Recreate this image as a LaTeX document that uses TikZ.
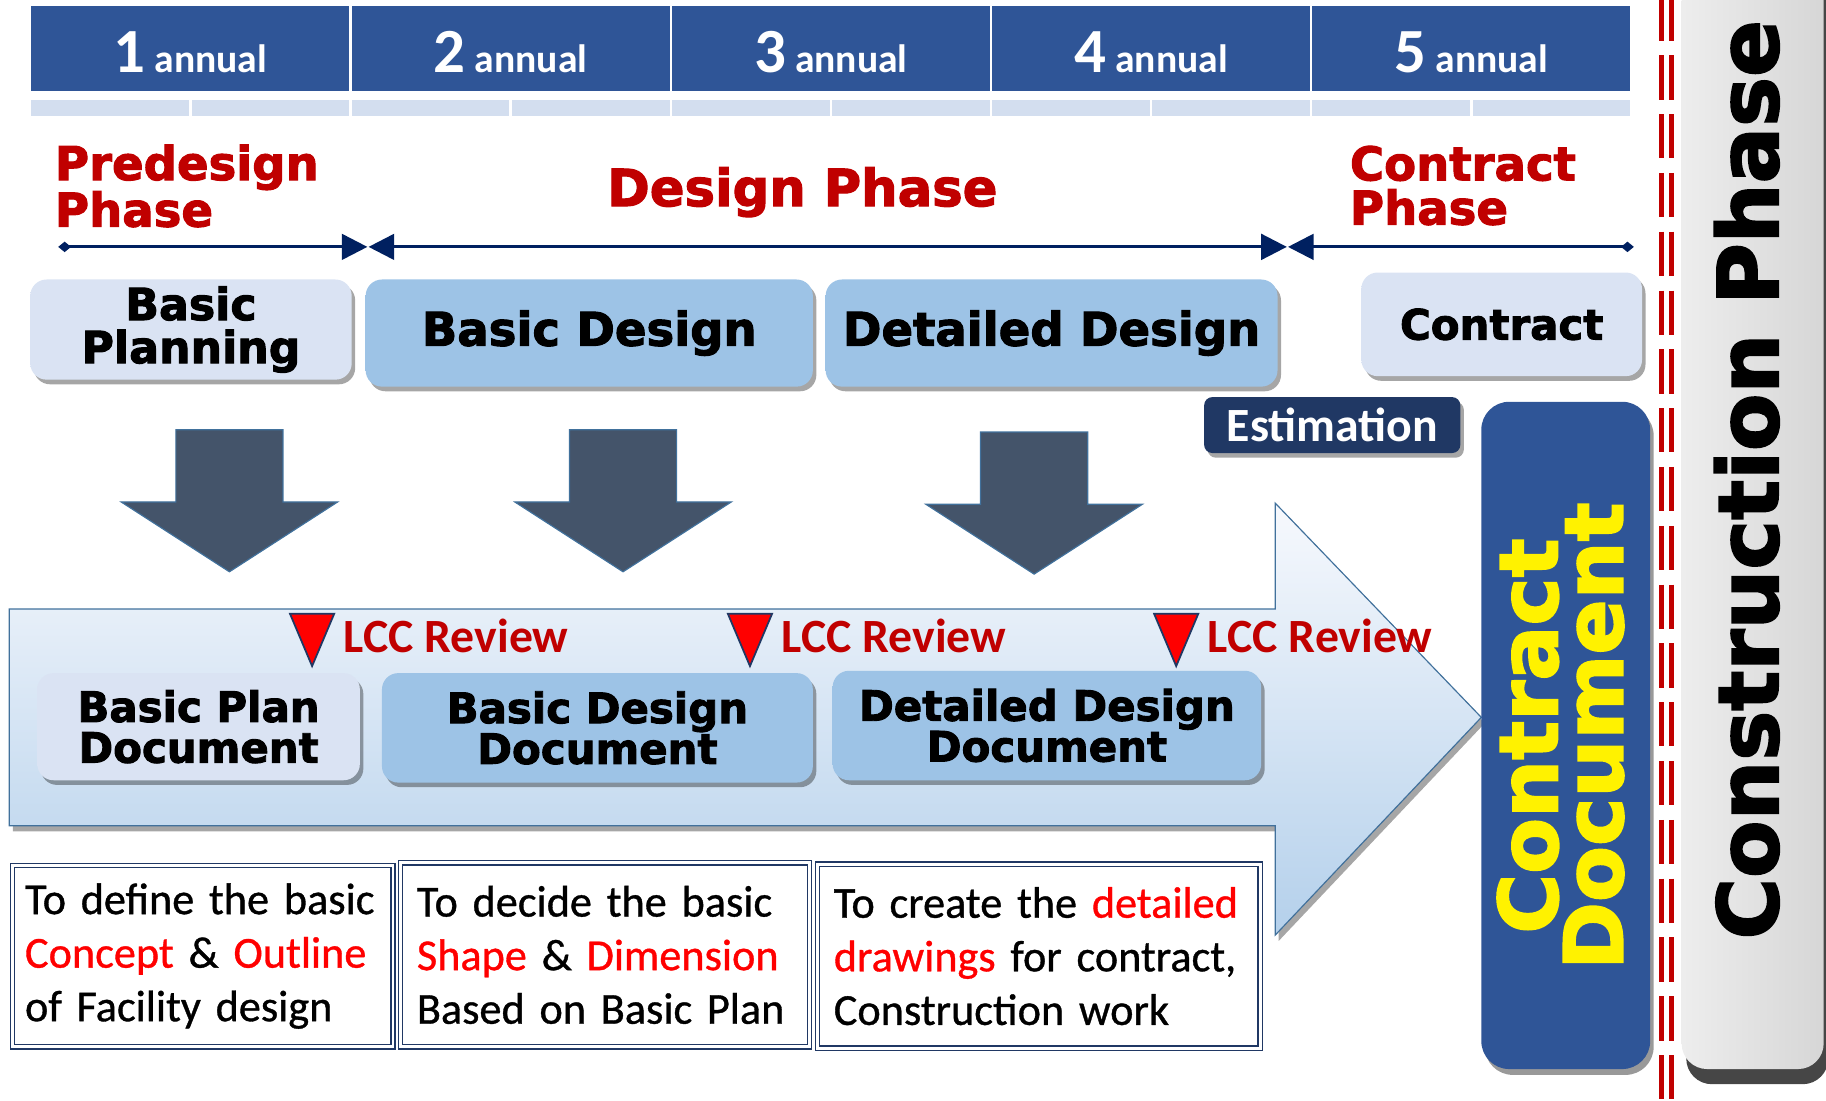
\documentclass[tikz,border=0pt]{standalone}
\usepackage{fontspec}
\setmainfont{Carlito}
\newfontfamily\heavyfont{DejaVu Sans}[FakeBold=2.2]
\newfontfamily\descfont{Carlito}[FakeBold=0.8]
\usetikzlibrary{arrows.meta,shadows}

\definecolor{yearblue}{HTML}{2F5597}
\definecolor{striplight}{HTML}{D3DEEF}
\definecolor{phasered}{HTML}{C00000}
\definecolor{phasenavy}{HTML}{002060}
\definecolor{boxlight}{HTML}{DAE3F3}
\definecolor{boxblue}{HTML}{9DC3E6}
\definecolor{estnavy}{HTML}{203864}
\definecolor{slate}{HTML}{44546A}
\definecolor{slateedge}{HTML}{41719C}
\definecolor{flowtop}{HTML}{F7F9FD}
\definecolor{flowbottom}{HTML}{B4D0EB}
\definecolor{hired}{HTML}{FF0000}

\pgfdeclareverticalshading{bluebevel}{100bp}{color(0bp)=(boxblue!60!black); color(14bp)=(boxblue); color(100bp)=(boxblue)}
\pgfdeclareverticalshading{lightbevel}{100bp}{color(0bp)=(boxlight!60!black); color(14bp)=(boxlight); color(100bp)=(boxlight)}

\tikzset{
  yearcell/.style={fill=yearblue, minimum width=273pt, minimum height=73pt, inner sep=0pt},
  yeartext/.style={text=white, font=\bfseries\fontsize{34}{34}\selectfont, inner sep=0pt},
  phasetitle/.style={text=phasered, font=\heavyfont\bfseries\fontsize{40}{36}\selectfont, align=left, inner sep=0pt},
  phaseline/.style={draw=phasenavy, line width=2.5pt},
  stagebox/.style={rounded corners=14pt, align=center, inner sep=0pt,
    font=\heavyfont\bfseries\fontsize{40}{37}\selectfont,
    drop shadow={shadow xshift=3pt, shadow yshift=-4pt, opacity=.35, fill=black}},
  lightstage/.style={stagebox, shading=lightbevel},
  bluestage/.style={stagebox, shading=bluebevel},
  docbox/.style={font=\heavyfont\bfseries\fontsize{36}{35}\selectfont},
  estbox/.style={fill=estnavy, rounded corners=7pt, text=white, inner sep=0pt,
    font=\bfseries\fontsize{41}{41}\selectfont,
    drop shadow={shadow xshift=3pt, shadow yshift=-4pt, opacity=.35, fill=black}},
  downarrow/.pic={\filldraw[fill=slate, draw=slateedge, line width=1pt]
    (-46,-122) -- (46,-122) -- (46,-60) -- (93,-60) -- (0,0) -- (-93,-60) -- (-46,-60) -- cycle;},
  flowarrow/.style={draw=slateedge, line width=1pt, top color=flowtop, bottom color=flowbottom,
    drop shadow={shadow xshift=3pt, shadow yshift=-5pt, opacity=.35, fill=black}},
  lccmark/.style={fill=red, draw=estnavy, line width=1.5pt, line join=miter},
  lcctext/.style={text=phasered, font=\bfseries\fontsize{41}{41}\selectfont, inner sep=0pt},
  descbox/.style={draw=estnavy, double=white, double distance=2.5pt, line width=1pt, fill=white,
    align=left, inner sep=0pt, font=\descfont\fontsize{38}{46}\selectfont,
    execute at begin node={\hyphenpenalty=10000\relax}},
  cutline/.style={draw=phasered, line width=4pt, dash pattern=on 38pt off 12.5pt}
}

\begin{document}
\begin{tikzpicture}[x=1pt,y=-1pt]
\useasboundingbox (0,0) rectangle (1568,945);

% years
\foreach \i in {1,...,5}{
  \node[yearcell] (year\i) at ({26+275*(\i-0.5)},41.5) {};
  \node[yeartext, anchor=base] (yeartxt\i) at ({26+275*(\i-0.5)},62) {{\fontsize{54}{54}\selectfont\i} annual};
}
\foreach \k in {0,...,9}
  \fill[striplight] ({26+137.5*\k+1},86) rectangle ({26+137.5*(\k+1)-1},100);

% phases
\node[phasetitle, anchor=north west] (predesign) at (47,124) {Predesign\\Phase};
\node[phasetitle, font=\heavyfont\bfseries\fontsize{44}{44}\selectfont, anchor=base] (design) at (689,177) {Design Phase};
\node[phasetitle, font=\heavyfont\bfseries\fontsize{40}{38}\selectfont, anchor=north west] (contractph) at (1159,125) {Contract\\Phase};

\coordinate (pre-a) at (50,212);
\coordinate (pre-b) at (315.5,212);
\coordinate (des-a) at (316.5,212);
\coordinate (des-b) at (1105,212);
\coordinate (con-a) at (1106,212);
\coordinate (con-b) at (1403,212);
\draw[phaseline, {Diamond[length=11pt,width=9pt]}-{Triangle[length=22pt,width=22pt]}] (pre-a) -- (pre-b);
\draw[phaseline, {Triangle[length=22pt,width=22pt]}-{Triangle[length=22pt,width=22pt]}] (des-a) -- (des-b);
\draw[phaseline, {Triangle[length=22pt,width=22pt]}-{Diamond[length=11pt,width=9pt]}] (con-a) -- (con-b);

% stages
\node[lightstage, font=\heavyfont\bfseries\fontsize{38}{37}\selectfont, minimum width=276pt, minimum height=86pt] (planning) at (164,283) {Basic\\Planning};
\node[bluestage, minimum width=384pt, minimum height=92pt] (basicdes) at (506,286) {Basic Design};
\node[bluestage, minimum width=388pt, minimum height=92pt] (detaildes) at (903,286) {Detailed Design};
\node[lightstage, font=\heavyfont\bfseries\fontsize{36}{33}\selectfont, minimum width=241pt, minimum height=89pt] (contract) at (1289.5,278.5) {Contract};
\node[estbox, minimum width=220pt, minimum height=48pt] (estimation) at (1144,365) {Estimation};

\pic at (197,491) {downarrow};
\pic at (535,491) {downarrow};
\pic at (888,493) {downarrow};

% construction side
\node[minimum width=122pt, minimum height=950pt, rounded corners=22pt, left color=black!7, right color=black!16,
  drop shadow={shadow xshift=4pt, shadow yshift=-13pt, opacity=.85, fill=black!85}] (construct) at (1505,443) {};
\node[rotate=90, font=\heavyfont\bfseries\fontsize{72}{72}\selectfont, inner sep=0pt] (constxt) at (1500,412) {Construction Phase};
\draw[cutline] (1427,-3) -- (1427,948);
\draw[cutline] (1435.5,-3) -- (1435.5,948);

% flow
\filldraw[flowarrow] (8,523) -- (1095,523) -- (1095,432) -- (1272,616) -- (1095,803) -- (1095,709) -- (8,709) -- cycle;

\node[fill=yearblue, rounded corners=24pt, minimum width=145pt, minimum height=573pt,
  drop shadow={shadow xshift=3pt, shadow yshift=-5pt, opacity=.4, fill=black}] (contractdoc) at (1344.5,631.5) {};
\node[rotate=90, text=yellow, align=center, inner sep=0pt, font=\heavyfont\bfseries\fontsize{70}{56}\selectfont] (contractdoctxt) at (1340,632) {Contract\\Document};

\foreach \x [count=\n] in {268,644,1010}{
  \filldraw[lccmark] (\x-19,527) -- (\x+19,527) -- (\x,572) -- cycle;
  \node[lcctext, anchor=base west] (lcc\n) at (\x+27,560) {LCC Review};
}

\node[lightstage, docbox, minimum width=277pt, minimum height=92pt] (plandoc) at (170.5,624) {Basic Plan\\Document};
\node[bluestage, docbox, minimum width=370pt, minimum height=94pt] (basicdoc) at (513,625) {Basic Design\\Document};
\node[bluestage, docbox, minimum width=368pt, minimum height=94pt] (detaildoc) at (899,623) {Detailed Design\\Document};

% purposes
\node[descbox, minimum width=327pt, minimum height=156pt, text width=305pt] (desc1) at (174,821)
  {To define the basic\\\textcolor{hired}{Concept} \& \textcolor{hired}{Outline}\\of Facility design};
\node[descbox, minimum width=351pt, minimum height=158pt, text width=323pt] (desc2) at (519.5,820)
  {To decide the basic\\\textcolor{hired}{Shape} \& \textcolor{hired}{Dimension}\\Based on Basic Plan};
\node[descbox, minimum width=380pt, minimum height=158pt, text width=352pt] (desc3) at (892,821)
  {To create the \textcolor{hired}{detailed}\\\textcolor{hired}{drawings} for contract,\\Construction work};
\end{tikzpicture}
\end{document}
